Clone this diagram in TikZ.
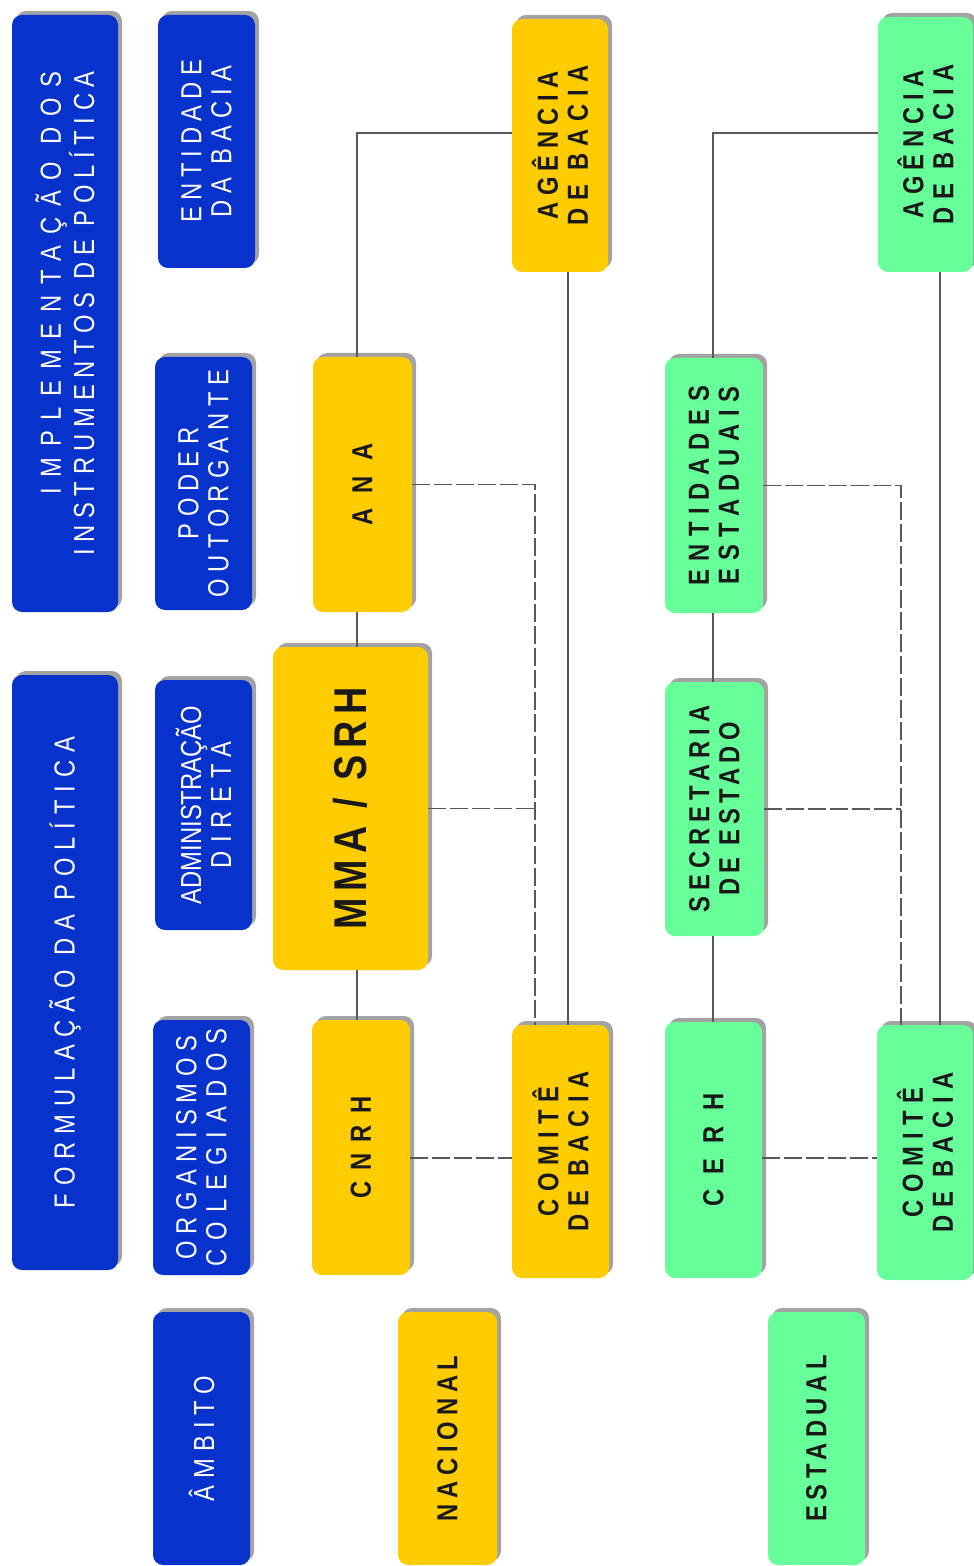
\documentclass[tikz,border=0pt]{standalone}
\usepackage{fontspec}
\setmainfont{Liberation Sans}
\newfontfamily\lbl[FakeStretch=0.82]{Liberation Sans}
\usetikzlibrary{fit,shadows}
\newcommand\ls[1]{\addfontfeature{LetterSpace=#1}}
\definecolor{bblue}{RGB}{8,50,204}
\definecolor{byel}{RGB}{255,204,0}
\definecolor{bgreen}{RGB}{102,255,153}
\begin{document}
\begin{tikzpicture}[x=0.5pt,y=-0.5pt,
  boxbase/.style={rounded corners=5pt, inner sep=0pt, draw=none,
    drop shadow={shadow xshift=2pt, shadow yshift=2pt, opacity=0.45, fill=black!80}},
  bluebox/.style={boxbase, fill=bblue},
  yelbox/.style={boxbase, fill=byel},
  grnbox/.style={boxbase, fill=bgreen},
  wtxt/.style={rotate=90, align=center, text=white, inner sep=0pt,
    font=\lbl\fontsize{14.5pt}{15pt}\selectfont},
  ktxt/.style={wtxt, text=black!90,
    font=\lbl\bfseries\fontsize{14.5pt}{15pt}\selectfont},
  conn/.style={draw=black!65, line width=0.6pt},
  dsh/.style={conn, dash pattern=on 9pt off 2pt}]
\useasboundingbox (0,0) rectangle (973,1566);

% helper coordinates
\coordinate (nx) at (357,0);
\coordinate (vy) at (568,0);
\coordinate (dy) at (535,0);
\coordinate (nx2) at (713,0);
\coordinate (vg) at (940,0);
\coordinate (dg) at (901,0);
\coordinate (hy) at (0,133);
\coordinate (hl) at (0,1158);

% blue header boxes
\node[bluebox, fit={(12,15) (118,612)}] (impl) {};
\node[bluebox, fit={(158,15) (255,268)}] (entb) {};
\node[bluebox, fit={(155,357) (252,610)}] (poder) {};
\node[bluebox, fit={(12,675) (118,1270)}] (form) {};
\node[bluebox, fit={(155,680) (252,930)}] (admin) {};
\node[bluebox, fit={(153,1020) (250,1275)}] (org) {};
\node[bluebox, fit={(153,1312) (250,1565)}] (ambito) {};

% yellow (nacional)
\node[yelbox, fit={(313,357) (412,612)}] (ana) {};
\node[yelbox, fit={(273,647) (428,970)}] (mma) {};
\node[yelbox, fit={(312,1020) (410,1275)}] (cnrh) {};
\node[yelbox, fit={(398,1312) (497,1565)}] (nac) {};
\node[yelbox, fit={(512,19) (608,272)}] (agy) {};
\node[yelbox, fit={(512,1025) (609,1278)}] (comy) {};

% green (estadual)
\node[grnbox, fit={(665,358) (763,613)}] (ent) {};
\node[grnbox, fit={(665,682) (764,936)}] (sec) {};
\node[grnbox, fit={(665,1022) (762,1278)}] (cerh) {};
\node[grnbox, fit={(768,1312) (865,1565)}] (est) {};
\node[grnbox, fit={(878,17) (973,272)}] (agg) {};
\node[grnbox, fit={(877,1025) (973,1280)}] (comg) {};

% texts
\node[wtxt, align=right] (implt) at (impl) {{\ls{37}IMPLEMENTAÇÃO DOS}\\{\ls{23}INSTRUMENTOS DE POLÍTICA}};
\node[wtxt] (entbt) at (entb) {{\ls{21}ENTIDADE}\\{\ls{23}DA BACIA}};
\node[wtxt] (podert) at (poder) {{\ls{24}PODER}\\{\ls{23}OUTORGANTE}};
\node[wtxt] (formt) at (form) {\ls{27}FORMULAÇÃO DA POLÍTICA};
\node[wtxt] (admint) at (admin) {{\ls{0}ADMINISTRAÇÃO}\\{\ls{28}DIRETA}};
\node[wtxt] (orgt) at (org) {{\ls{23}ORGANISMOS}\\{\ls{31}COLEGIADOS}};
\node[wtxt] (ambitot) at (ambito) {\ls{24}ÂMBITO};

\node[ktxt] (anat) at (ana) {\ls{52}ANA};
\node[ktxt, font=\lbl\bfseries\fontsize{23pt}{24pt}\selectfont] (mmat) at (mma) {\ls{15}MMA / SRH};
\node[ktxt] (cnrht) at (cnrh) {\ls{38}CNRH};
\node[ktxt] (nact) at (nac) {\ls{20}NACIONAL};
\node[ktxt] (agyt) at (agy) {{\ls{22}AGÊNCIA}\\{\ls{26}DE BACIA}};
\node[ktxt] (comyt) at (comy) {{\ls{26}COMITÊ}\\{\ls{26}DE BACIA}};

\node[ktxt] (entt) at (ent) {{\ls{27}ENTIDADES}\\{\ls{27}ESTADUAIS}};
\node[ktxt] (sect) at (sec) {{\ls{21}SECRETARIA}\\{\ls{18}DE ESTADO}};
\node[ktxt] (cerht) at (cerh) {\ls{52}CERH};
\node[ktxt] (estt) at (est) {\ls{19}ESTADUAL};
\node[ktxt] (aggt) at (agg) {{\ls{22}AGÊNCIA}\\{\ls{26}DE BACIA}};
\node[ktxt] (comgt) at (comg) {{\ls{26}COMITÊ}\\{\ls{26}DE BACIA}};

% connectors - nacional
\draw[conn] (ana.north -| nx) |- (agy.west |- hy);
\draw[conn] (ana.south -| nx) -- (mma.north -| nx);
\draw[conn] (mma.south -| nx) -- (cnrh.north -| nx);
\draw[conn] (agy.south -| vy) -- (comy.north -| vy);
\draw[dsh] (ana.east) -| (comy.north -| dy);
\draw[dsh] (mma.east) -- (mma.east -| dy);
\draw[dsh] (cnrh.east |- hl) -- (comy.west |- hl);

% connectors - estadual
\draw[conn] (ent.north -| nx2) |- (agg.west |- hy);
\draw[conn] (ent.south -| nx2) -- (sec.north -| nx2);
\draw[conn] (sec.south -| nx2) -- (cerh.north -| nx2);
\draw[conn] (agg.south -| vg) -- (comg.north -| vg);
\draw[dsh] (ent.east) -| (comg.north -| dg);
\draw[dsh] (sec.east) -- (sec.east -| dg);
\draw[dsh] (cerh.east |- hl) -- (comg.west |- hl);
\end{tikzpicture}
\end{document}
